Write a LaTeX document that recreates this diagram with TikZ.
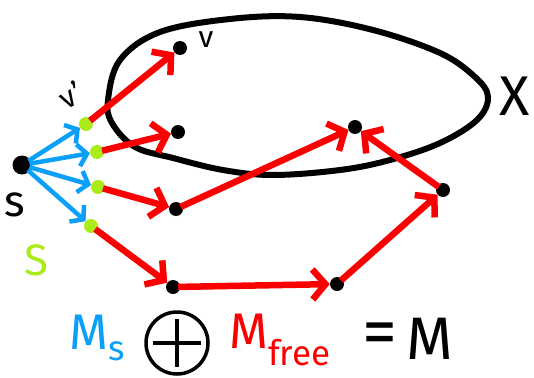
\documentclass[tikz,border=0pt]{standalone}
\usepackage{fontspec}
\setsansfont{Fira Sans}
\usetikzlibrary{arrows.meta,positioning}
\definecolor{mred}{RGB}{250,0,0}
\definecolor{mblue}{RGB}{10,160,250}
\definecolor{mgreen}{RGB}{170,235,25}

\begin{document}
\begin{tikzpicture}[x=1pt,y=-1pt,
    dot/.style={circle, fill=black, inner sep=0pt, minimum size=14pt},
    sdot/.style={circle, fill=mgreen, inner sep=0pt, minimum size=14pt},
    redarc/.style={draw=mred, line width=6.5pt, shorten <=-2pt, -{Straight Barb[length=13pt,width=30pt]}},
    bluearc/.style={draw=mblue, line width=4.5pt, shorten <=-2pt, -{Straight Barb[length=9pt,width=22pt]}},
    lbl/.style={font=\sffamily\fontsize{30}{30}\selectfont}]
    \useasboundingbox (0,0) rectangle (534,377);

    % The set X
    \draw[line width=6pt] plot[smooth cycle, tension=0.6] coordinates {
        (108,100) (120,60) (160,32) (230,19) (300,17) (373,30) (440,53) (475,77)
        (488,97) (477,120) (440,143) (390,160) (340,170) (273,175) (223,170)
        (173,158) (135,147) (112,123)};
    \node[font=\sffamily\fontsize{56}{56}\selectfont] (xlbl) at (515,96) {X};

    % Vertices
    \node[dot, minimum size=19pt] (s) at (22,165) {};
    \node[dot] (v) at (180,48) {};
    \node[dot] (a) at (178,132) {};
    \node[dot] (b) at (176,209) {};
    \node[dot] (c) at (173,287) {};
    \node[dot] (d) at (355,127) {};
    \node[dot] (e) at (443,190) {};
    \node[dot] (f) at (337,284) {};

    % Neighbours S of s
    \node[sdot] (s1) at (86,124) {};
    \node[sdot] (s2) at (97,152) {};
    \node[sdot] (s3) at (98,187) {};
    \node[sdot] (s4) at (91,226) {};

    % Matching M_s
    \foreach \t in {s1,s2,s3,s4}
        \draw[bluearc] (s) -- (\t);

    % Free part
    \draw[redarc] (s1) -- (v);
    \draw[redarc] (s2) -- (a);
    \draw[redarc] (s3) -- (b);
    \draw[redarc] (s4) -- (c);
    \draw[redarc] (c) -- (f);
    \draw[redarc] (f) -- (e);
    \draw[redarc] (e) -- (d);
    \draw[redarc] (b) -- (d);

    % Labels
    \node[lbl] (vlbl) at (206,40) {v};
    \node[lbl, rotate=30, inner sep=0pt] (vplbl) at (71,95) {v\kern1pt'};
    \node[font=\sffamily\fontsize{44}{44}\selectfont] (slbl) at (15,205) {s};
    \node[font=\sffamily\fontsize{44}{44}\selectfont, text=mgreen] (Slbl) at (36,260) {S};

    % M_s + M_free = M
    \node[font=\sffamily\fontsize{50}{50}\selectfont, text=mblue] (ms) at (97,338) {M\textsubscript{s}};
    \node[circle, draw, line width=3.5pt, minimum size=62pt, inner sep=0pt] (plus) at (177,343) {};
    \draw[line width=3.5pt] ([xshift=9pt]plus.west) -- ([xshift=-9pt]plus.east)
                            ([yshift=-9pt]plus.north) -- ([yshift=9pt]plus.south);
    \node[font=\sffamily\fontsize{50}{50}\selectfont, text=mred] (mfree) at (280,340) {M\textsubscript{free}};
    \node[font=\sffamily\fontsize{70}{70}\selectfont, inner sep=0pt] (eq) at (380,339) {=};
    \node[font=\sffamily\fontsize{60}{60}\selectfont, inner sep=0pt] (mall) at (430,339) {M};
\end{tikzpicture}
\end{document}
